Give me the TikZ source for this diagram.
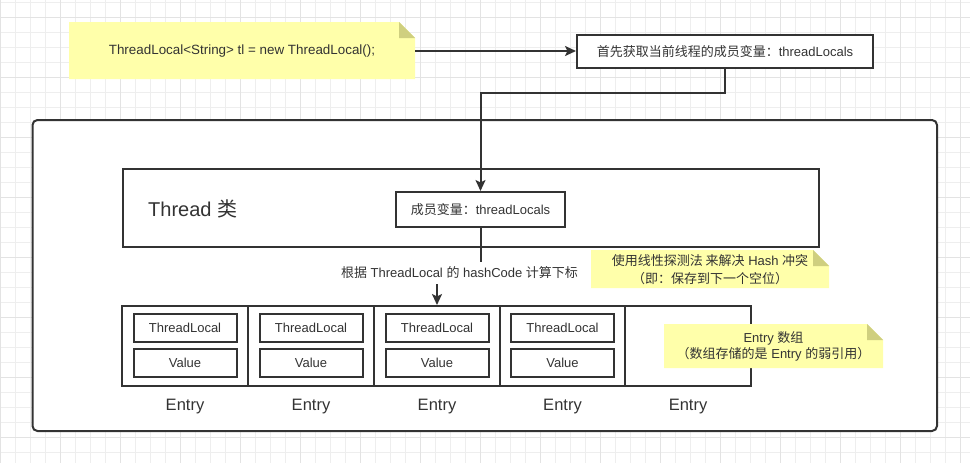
\documentclass[tikz,border=0pt]{standalone}
\usepackage{fontspec}
\setmainfont{Liberation Sans}
\newfontfamily\cjk{Noto Sans CJK SC}
\usetikzlibrary{arrows.meta}
\definecolor{ink}{HTML}{333333}
\definecolor{gridlight}{HTML}{EEEEEE}
\definecolor{griddark}{HTML}{E3E3E3}
\definecolor{notefill}{HTML}{FFFFAA}
\definecolor{foldfill}{HTML}{CFCF7F}
\newcommand\zh[1]{{\cjk #1}}
\newcommand\notebg[4]{%
  \fill[notefill] (#1,#2) -- ({#3-16},#2) -- (#3,{#2+16}) -- (#3,#4) -- (#1,#4) -- cycle;
  \fill[foldfill] ({#3-16},#2) -- ({#3-16},{#2+16}) -- (#3,{#2+16}) -- cycle;}
\begin{document}
\begin{tikzpicture}[x=1pt,y=-1pt,
  box/.style={draw=ink, line width=2pt, fill=white, inner sep=0pt, text=ink,
    font=\fontsize{13}{16}\selectfont},
  txt/.style={text=ink, font=\fontsize{13}{16}\selectfont, inner sep=0pt},
  big/.style={text=ink, font=\fontsize{16.5}{19}\selectfont, inner sep=0pt},
  conn/.style={draw=ink, line width=2pt},
  arr/.style={conn, -{Stealth[length=11pt,width=10pt,inset=2.5pt]}},
]
\useasboundingbox (0,0) rectangle (970,463);
\fill[white] (0,0) rectangle (970,463);
% grid
\foreach \x in {0,15,...,960} \draw[gridlight, line width=1pt] (\x,0) -- (\x,463);
\foreach \y in {2.5,17.5,...,462.5} \draw[gridlight, line width=1pt] (0,\y) -- (970,\y);
\foreach \x in {0,60,...,960} \draw[griddark, line width=1pt] (\x,0) -- (\x,463);
\foreach \y in {17.5,77.5,...,462.5} \draw[griddark, line width=1pt] (0,\y) -- (970,\y);

% outer container
\node[draw=ink, line width=2pt, fill=white, rounded corners=5pt,
  minimum width=904.5pt, minimum height=311pt, inner sep=0pt] (outer) at (484.75,275.5) {};

% top note
\notebg{69}{22}{415}{79}
\node[txt, font=\fontsize{13.4}{16}\selectfont, minimum width=346pt, minimum height=57pt] (note1) at (242,51)
  {ThreadLocal<String> tl = new ThreadLocal();};

% top box
\node[box, minimum width=296pt, minimum height=33pt] (box2) at (725,51.5)
  {\zh{首先获取当前线程的成员变量：}threadLocals};
\draw[arr] (note1.east) -- (note1.east -| box2.west);

% Thread class
\node[box, minimum width=696pt, minimum height=78pt] (thread) at (471,208) {};
\node[text=ink, font=\fontsize{20}{24}\selectfont, inner sep=0pt, anchor=base west] (threadlbl)
  at (148,216.5) {Thread \zh{类}};
\node[box, minimum width=169pt, minimum height=35pt] (member) at (480.5,209.5)
  {\zh{成员变量：}threadLocals};

\coordinate (bend) at (0,93);
\draw[arr] (box2.south) -- (box2.south |- bend) -| (member.north);

% entries
\foreach \i/\cx in {1/185,2/311,3/437,4/562.5,5/688}{
  \node[box, minimum width=126pt, minimum height=80pt] (cell\i) at (\cx,346) {};
  \node[big, anchor=base] (entry\i) at (\cx,410) {Entry};
}
\foreach \i/\cx in {1/185,2/311,3/437,4/562.5}{
  \node[box, minimum width=103pt, minimum height=28pt] (tl\i) at (\cx,328) {ThreadLocal};
  \node[box, minimum width=103pt, minimum height=28pt] (val\i) at (\cx,363) {Value};
}

% hash connector
\coordinate (hashy) at (0,273);
\draw[arr] (member.south) -- (member.south |- hashy) -| (cell3.north);
\node[txt, fill=white, inner xsep=3pt, inner ysep=5pt] (hashlbl) at (459.5,273)
  {\zh{根据} ThreadLocal \zh{的} hashCode \zh{计算下标}};

% probe note
\notebg{591}{250}{829}{288}
\node[txt, align=center, font=\fontsize{13}{18}\selectfont] (note2) at (710,270)
  {\zh{使用线性探测法 来解决} Hash \zh{冲突}\\\zh{（即：保存到下一个空位）}};

% array note
\notebg{664}{324}{883}{368}
\node[txt, align=center, font=\fontsize{13}{16}\selectfont] (note3) at (773.5,346.5)
  {Entry \zh{数组}\\\zh{（数组存储的是} Entry \zh{的弱引用）}};
\end{tikzpicture}
\end{document}
